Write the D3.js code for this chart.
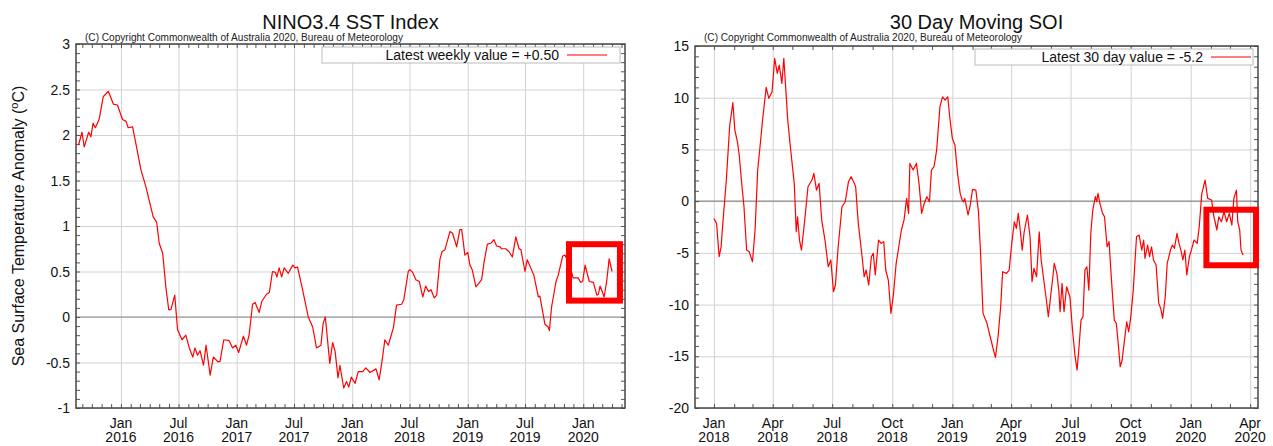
<!DOCTYPE html>
<html>
<head>
<meta charset="utf-8">
<script src="https://cdn.jsdelivr.net/npm/d3@7"></script>
<style>
body { margin: 0; background: #fff; }
svg { font-family: "Liberation Sans", Arial, sans-serif; }
</style>
</head>
<body>
<svg id="chart" width="1273" height="446"></svg>
<script>
// NINO3.4 weekly SST anomaly (deg C)
var ninoDates = ["2015-08-20","2015-08-31","2015-09-07","2015-09-21","2015-09-28","2015-10-05","2015-10-12","2015-10-24","2015-11-06","2015-11-22",
  "2015-12-08","2015-12-21","2016-01-06","2016-01-17","2016-01-24","2016-02-07","2016-02-23","2016-03-04","2016-03-20","2016-04-12",
  "2016-04-23","2016-05-01","2016-05-12","2016-05-22","2016-05-31","2016-06-07","2016-06-19","2016-06-28","2016-07-12","2016-07-24",
  "2016-08-04","2016-08-15","2016-08-22","2016-08-30","2016-09-07","2016-09-18","2016-09-26","2016-10-09","2016-10-19","2016-11-02",
  "2016-11-09","2016-11-21","2016-12-08","2016-12-19","2016-12-29","2017-01-07","2017-01-22","2017-02-01","2017-02-09","2017-02-20",
  "2017-02-28","2017-03-13","2017-03-21","2017-04-05","2017-04-14","2017-04-24","2017-05-03","2017-05-08","2017-05-15","2017-05-23",
  "2017-05-31","2017-06-13","2017-06-27","2017-07-04","2017-07-12","2017-07-28","2017-08-15","2017-08-29","2017-09-10","2017-09-24",
  "2017-10-01","2017-10-08","2017-10-22","2017-10-31","2017-11-08","2017-11-17","2017-11-23","2017-12-05","2017-12-14","2017-12-21",
  "2017-12-29","2018-01-10","2018-01-20","2018-02-03","2018-02-13","2018-02-26","2018-03-17","2018-03-27","2018-04-07","2018-04-14",
  "2018-04-25","2018-05-11","2018-05-21","2018-06-06","2018-06-13","2018-06-27","2018-07-02","2018-07-11","2018-07-21","2018-08-01",
  "2018-08-12","2018-08-21","2018-08-30","2018-09-07","2018-09-17","2018-09-25","2018-10-05","2018-10-12","2018-10-21","2018-11-06",
  "2018-11-14","2018-11-27","2018-12-07","2018-12-13","2018-12-23","2019-01-01","2019-01-08","2019-01-15","2019-01-27","2019-02-05",
  "2019-02-14","2019-02-21","2019-03-04","2019-03-15","2019-03-25","2019-04-02","2019-04-13","2019-04-18","2019-05-01","2019-05-11",
  "2019-05-22","2019-06-02","2019-06-12","2019-06-18","2019-07-01","2019-07-08","2019-07-19","2019-07-29","2019-08-12","2019-08-17",
  "2019-09-02","2019-09-12","2019-09-16","2019-09-23","2019-10-07","2019-10-14","2019-10-28","2019-11-04","2019-11-18","2019-11-30",
  "2019-12-16","2019-12-24","2019-12-30","2020-01-07","2020-01-20","2020-02-02","2020-02-13","2020-02-18","2020-02-23","2020-02-28",
  "2020-03-07","2020-03-15","2020-03-23","2020-04-01"];
var ninoValues = [1.89,2.03,1.87,2.03,1.98,2.13,2.08,2.17,2.42,2.48,
  2.34,2.33,2.17,2.15,2.08,2.09,1.80,1.62,1.43,1.10,
  1.04,0.81,0.70,0.33,0.08,0.08,0.24,-0.14,-0.25,-0.20,
  -0.34,-0.44,-0.34,-0.42,-0.37,-0.53,-0.31,-0.64,-0.44,-0.49,
  -0.49,-0.25,-0.26,-0.34,-0.31,-0.39,-0.21,-0.31,-0.20,0.14,
  0.16,0.05,0.17,0.25,0.27,0.50,0.49,0.44,0.54,0.44,
  0.54,0.48,0.57,0.54,0.55,0.30,0.00,-0.11,-0.34,-0.31,
  -0.07,0.00,-0.51,-0.28,-0.38,-0.67,-0.53,-0.78,-0.71,-0.77,
  -0.66,-0.73,-0.60,-0.60,-0.56,-0.61,-0.57,-0.69,-0.44,-0.25,
  -0.31,-0.12,0.13,0.14,0.19,0.50,0.52,0.49,0.41,0.39,
  0.22,0.34,0.28,0.30,0.21,0.24,0.63,0.72,0.74,0.94,
  0.92,0.77,0.96,0.96,0.68,0.71,0.57,0.52,0.33,0.37,
  0.41,0.59,0.80,0.81,0.85,0.78,0.77,0.75,0.75,0.72,
  0.66,0.88,0.75,0.74,0.50,0.63,0.54,0.46,0.22,0.23,
  -0.08,-0.11,-0.15,0.11,0.39,0.46,0.67,0.68,0.59,0.43,
  0.43,0.38,0.39,0.57,0.39,0.38,0.24,0.25,0.34,0.30,
  0.22,0.39,0.64,0.50];

// 30 day moving SOI
var soiDates = ["2018-01-01","2018-01-05","2018-01-09","2018-01-12","2018-01-15","2018-01-20","2018-01-25","2018-01-30","2018-02-02","2018-02-06",
  "2018-02-09","2018-02-12","2018-02-16","2018-02-20","2018-02-24","2018-03-01","2018-03-05","2018-03-09","2018-03-12","2018-03-17",
  "2018-03-22","2018-03-26","2018-03-31","2018-04-04","2018-04-08","2018-04-11","2018-04-15","2018-04-18","2018-04-24","2018-04-28",
  "2018-05-04","2018-05-07","2018-05-09","2018-05-12","2018-05-15","2018-05-20","2018-05-25","2018-05-31","2018-06-03","2018-06-07",
  "2018-06-11","2018-06-15","2018-06-20","2018-06-25","2018-06-29","2018-07-03","2018-07-06","2018-07-10","2018-07-16","2018-07-21",
  "2018-07-26","2018-07-30","2018-08-04","2018-08-06","2018-08-10","2018-08-15","2018-08-19","2018-08-22","2018-08-26","2018-08-30",
  "2018-09-02","2018-09-05","2018-09-10","2018-09-14","2018-09-18","2018-09-21","2018-09-25","2018-09-29","2018-10-03","2018-10-07",
  "2018-10-11","2018-10-15","2018-10-19","2018-10-23","2018-10-26","2018-10-28","2018-11-02","2018-11-07","2018-11-11","2018-11-15",
  "2018-11-19","2018-11-23","2018-11-27","2018-11-30","2018-12-04","2018-12-08","2018-12-13","2018-12-17","2018-12-21","2018-12-25",
  "2018-12-28","2019-01-01","2019-01-05","2019-01-09","2019-01-13","2019-01-16","2019-01-18","2019-01-20","2019-01-25","2019-01-28",
  "2019-02-01","2019-02-06","2019-02-10","2019-02-13","2019-02-17","2019-02-23","2019-02-28","2019-03-05","2019-03-08","2019-03-12",
  "2019-03-16","2019-03-19","2019-03-25","2019-03-29","2019-04-02","2019-04-06","2019-04-09","2019-04-12","2019-04-15","2019-04-18",
  "2019-04-21","2019-04-26","2019-04-30","2019-05-03","2019-05-06","2019-05-10","2019-05-14","2019-05-17","2019-05-20","2019-05-25",
  "2019-05-28","2019-06-01","2019-06-04","2019-06-06","2019-06-10","2019-06-13","2019-06-15","2019-06-18","2019-06-21","2019-06-25",
  "2019-06-30","2019-07-04","2019-07-08","2019-07-11","2019-07-14","2019-07-17","2019-07-20","2019-07-23","2019-07-26","2019-07-29",
  "2019-08-01","2019-08-04","2019-08-08","2019-08-10","2019-08-12","2019-08-15","2019-08-19","2019-08-22","2019-08-26","2019-08-29",
  "2019-09-02","2019-09-06","2019-09-09","2019-09-12","2019-09-15","2019-09-18","2019-09-21","2019-09-25","2019-09-28","2019-10-01",
  "2019-10-05","2019-10-10","2019-10-14","2019-10-18","2019-10-21","2019-10-23","2019-10-27","2019-10-30","2019-11-02","2019-11-05",
  "2019-11-09","2019-11-13","2019-11-16","2019-11-19","2019-11-23","2019-11-26","2019-12-01","2019-12-04","2019-12-07","2019-12-11",
  "2019-12-14","2019-12-17","2019-12-20","2019-12-23","2019-12-26","2019-12-30","2020-01-02","2020-01-06","2020-01-11","2020-01-14",
  "2020-01-18","2020-01-23","2020-01-27","2020-02-02","2020-02-05","2020-02-10","2020-02-13","2020-02-17","2020-02-21","2020-02-25",
  "2020-02-29","2020-03-04","2020-03-07","2020-03-11","2020-03-13","2020-03-16","2020-03-18","2020-03-21"];
var soiValues = [-1.67,-2.15,-5.37,-4.41,-1.83,2.04,7.19,9.52,6.87,5.74,
  4.29,2.04,-0.54,-4.73,-4.89,-5.86,-2.79,3.01,4.94,8.16,
  11.00,9.94,10.58,13.81,12.36,13.16,11.39,13.81,7.84,5.26,
  1.72,-2.96,-1.51,-3.76,-4.73,-1.83,1.39,2.04,2.69,1.07,
  1.72,-1.83,-3.76,-6.34,-5.69,-8.76,-8.11,-4.56,-0.54,-0.06,
  1.88,2.36,1.72,1.39,-2.15,-4.89,-7.31,-6.66,-8.11,-5.37,
  -5.05,-7.14,-3.76,-4.08,-3.92,-6.66,-7.63,-10.85,-8.91,-6.01,
  -4.41,-2.79,-1.83,0.27,-1.18,3.65,3.01,3.65,1.72,-1.18,
  -0.21,0.43,-0.06,3.01,3.33,4.94,9.13,10.09,9.77,10.09,
  8.16,6.07,5.42,2.69,0.75,0.11,-0.06,0.27,-1.34,-0.54,
  1.14,1.07,-1.02,-4.73,-10.85,-11.81,-13.11,-14.40,-15.10,-13.11,
  -10.21,-6.82,-6.98,-6.66,-4.08,-1.99,-2.63,-1.18,-2.79,-4.73,
  -2.96,-1.34,-3.44,-7.79,-6.50,-7.31,-2.96,-5.69,-7.14,-9.56,
  -11.18,-8.91,-7.31,-6.01,-6.98,-8.60,-10.69,-7.95,-10.69,-8.28,
  -9.24,-12.46,-15.04,-16.33,-14.08,-11.50,-11.18,-6.66,-6.34,-8.60,
  -3.11,-0.86,0.43,-0.06,0.75,-0.21,-1.18,-1.51,-4.41,-3.92,
  -7.95,-11.50,-11.81,-13.75,-16.01,-15.36,-13.75,-11.66,-12.63,-11.33,
  -8.60,-3.44,-3.28,-4.73,-3.76,-5.53,-4.24,-5.37,-4.41,-5.69,
  -6.18,-9.88,-10.37,-11.33,-9.24,-6.01,-4.73,-4.24,-4.56,-3.11,
  -4.08,-4.73,-5.69,-4.73,-7.14,-5.37,-4.73,-3.76,-4.08,-2.47,
  0.75,2.04,0.27,0.11,-1.34,-2.79,-1.51,-1.99,-1.02,-1.99,
  -1.18,-2.31,0.27,1.07,-1.99,-2.79,-4.73,-5.2];

// axis ticks
var ninoYTicks = [-1, -0.5, 0, 0.5, 1, 1.5, 2, 2.5, 3];
var ninoXTicks = ["2016-01-01","2016-07-01","2017-01-01","2017-07-01","2018-01-01","2018-07-01","2019-01-01","2019-07-01","2020-01-01"];
var soiYTicks = [-20, -15, -10, -5, 0, 5, 10, 15];
var soiXTicks = ["2018-01-01","2018-04-01","2018-07-01","2018-10-01","2019-01-01","2019-04-01","2019-07-01","2019-10-01","2020-01-01","2020-04-01"];

// highlighted recent period: [start, end, low, high]
var ninoHighlight = ["2019-11-17", "2020-04-26", 0.18, 0.80];
var soiHighlight = ["2020-01-25", "2020-04-10", -6.2, -0.83];

var parse = d3.timeParse("%Y-%m-%d");
var svg = d3.select("#chart");

function drawPanel(o) {
  var x = d3.scaleTime().domain(o.xDomain.map(parse)).range([o.left, o.right]);
  var y = d3.scaleLinear().domain(o.yDomain).range([o.bottom, o.top]);
  var g = svg.append("g");
  var w = o.right - o.left, h = o.bottom - o.top;

  // grid
  g.append("g").attr("transform", "translate(0," + o.bottom + ")")
    .call(d3.axisBottom(x).tickValues(o.xTicks.map(parse)).tickSize(-h).tickFormat(""))
    .call(function (a) { a.select(".domain").remove(); a.selectAll("line").attr("stroke", "#d2d2d2"); });
  g.append("g").attr("transform", "translate(" + o.left + ",0)")
    .call(d3.axisLeft(y).tickValues(o.yTicks).tickSize(-w).tickFormat(""))
    .call(function (a) { a.select(".domain").remove(); a.selectAll("line").attr("stroke", "#d2d2d2"); });
  // zero line
  g.append("line").attr("x1", o.left).attr("x2", o.right).attr("y1", y(0)).attr("y2", y(0))
    .attr("stroke", "#8c8c8c").attr("stroke-width", 1.2);

  // minor ticks
  var monthTicks = d3.timeMonth.range(x.domain()[0], x.domain()[1]);
  var minorY = d3.range(o.yDomain[0], o.yDomain[1] + o.yMinor / 2, o.yMinor);
  g.append("g").attr("transform", "translate(0," + o.bottom + ")")
    .call(d3.axisBottom(x).tickValues(monthTicks).tickSize(-4).tickFormat(""));
  g.append("g").attr("transform", "translate(0," + o.top + ")")
    .call(d3.axisTop(x).tickValues(monthTicks).tickSize(-4).tickFormat(""));
  g.append("g").attr("transform", "translate(" + o.left + ",0)")
    .call(d3.axisLeft(y).tickValues(minorY).tickSize(-4).tickFormat(""));
  g.append("g").attr("transform", "translate(" + o.right + ",0)")
    .call(d3.axisRight(y).tickValues(minorY).tickSize(-4).tickFormat(""));
  g.selectAll(".domain").remove();
  g.selectAll(".tick line").filter(function () { return d3.select(this).attr("stroke") !== "#d2d2d2"; })
    .attr("stroke", "#555");

  // data line
  var pts = o.dates.map(function (d, i) { return [parse(d), o.values[i]]; });
  g.append("path").datum(pts)
    .attr("fill", "none").attr("stroke", "#ff0000").attr("stroke-width", 1.2)
    .attr("stroke-linejoin", "round")
    .attr("d", d3.line().x(function (d) { return x(d[0]); }).y(function (d) { return y(d[1]); }));

  // frame
  g.append("rect").attr("x", o.left).attr("y", o.top).attr("width", w).attr("height", h)
    .attr("fill", "none").attr("stroke", "#444").attr("stroke-width", 1.5);

  // y labels
  g.selectAll(".ylab").data(o.yTicks).enter().append("text")
    .attr("x", o.left - 6).attr("y", function (d) { return y(d) + 5; })
    .attr("text-anchor", "end").attr("font-size", 14).attr("fill", "#111")
    .text(function (d) { return String(d); });

  // x labels (month / year)
  var xl = g.selectAll(".xlab").data(o.xTicks.map(parse)).enter().append("text")
    .attr("text-anchor", "middle").attr("font-size", 14).attr("fill", "#111");
  xl.append("tspan").attr("x", function (d) { return x(d); }).attr("y", o.bottom + 20)
    .text(d3.timeFormat("%b"));
  xl.append("tspan").attr("x", function (d) { return x(d); }).attr("y", o.bottom + 34)
    .text(d3.timeFormat("%Y"));

  // title and copyright
  g.append("text").attr("x", (o.left + o.right) / 2).attr("y", 29)
    .attr("text-anchor", "middle").attr("font-size", 20).attr("fill", "#111").text(o.title);
  g.append("text").attr("x", o.left + 9).attr("y", 41)
    .attr("font-size", 10).attr("fill", "#222").attr("textLength", 318).attr("lengthAdjust", "spacingAndGlyphs")
    .text("(C) Copyright Commonwealth of Australia 2020, Bureau of Meteorology");

  // legend
  g.append("rect").attr("x", o.legend[0]).attr("y", o.top + 3).attr("width", o.right - 5 - o.legend[0]).attr("height", 16)
    .attr("fill", "#fff").attr("stroke", "#bbb");
  g.append("text").attr("x", o.legend[1]).attr("y", o.top + 16)
    .attr("text-anchor", "end").attr("font-size", 14).attr("fill", "#111").text(o.legendText);
  g.append("line").attr("x1", o.legend[1] + 8).attr("x2", o.legend[1] + 48)
    .attr("y1", o.top + 11).attr("y2", o.top + 11).attr("stroke", "#ff0000").attr("stroke-width", 1.2);

  // highlight box
  var hb = o.highlight;
  g.append("rect").attr("x", x(parse(hb[0]))).attr("y", y(hb[3]))
    .attr("width", x(parse(hb[1])) - x(parse(hb[0]))).attr("height", y(hb[2]) - y(hb[3]))
    .attr("fill", "none").attr("stroke", "#ff0000").attr("stroke-width", 6);
  return g;
}

drawPanel({
  left: 76, right: 625, top: 44, bottom: 408,
  xDomain: ["2015-08-12", "2020-05-12"], yDomain: [-1, 3], yMinor: 0.1,
  xTicks: ninoXTicks, yTicks: ninoYTicks,
  dates: ninoDates, values: ninoValues,
  title: "NINO3.4 SST Index", legendText: "Latest weekly value = +0.50", legend: [322, 559],
  highlight: ninoHighlight
});

drawPanel({
  left: 695, right: 1258, top: 46, bottom: 408,
  xDomain: ["2017-12-03", "2020-04-13"], yDomain: [-20, 15], yMinor: 1,
  xTicks: soiXTicks, yTicks: soiYTicks,
  dates: soiDates, values: soiValues,
  title: "30 Day Moving SOI", legendText: "Latest 30 day value = -5.2", legend: [975, 1203],
  highlight: soiHighlight
});

// y axis title of the left panel
var yt = svg.append("text").attr("transform", "translate(24,226) rotate(-90)")
  .attr("text-anchor", "middle").attr("font-size", 16).attr("fill", "#111");
yt.append("tspan").text("Sea Surface Temperature Anomaly (");
yt.append("tspan").attr("dy", -6).attr("font-size", 11).text("o");
yt.append("tspan").attr("dy", 6).text("C)");
</script>
</body>
</html>
